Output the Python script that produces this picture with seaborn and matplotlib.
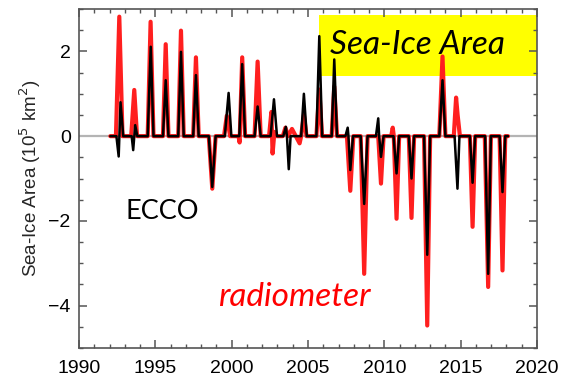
import matplotlib
matplotlib.use("Agg")
import matplotlib.pyplot as plt
import seaborn as sns
import pandas as pd
from matplotlib.patches import Rectangle
from matplotlib.ticker import MultipleLocator

# ---- data ----
radiometer_t = [1992.05, 1992.42, 1992.64, 1992.85, 1993.42, 1993.62, 1993.8,
                1994.5, 1994.69, 1994.88, 1995.5, 1995.68, 1995.86,
                1996.5, 1996.68, 1996.86, 1997.48, 1997.66, 1997.84,
                1998.5, 1998.73, 1998.95, 1999.5, 1999.68, 1999.9,
                2000.45, 2000.52, 2000.69, 2000.88, 2001.5, 2001.70, 2001.9,
                2002.45, 2002.6, 2002.68, 2002.8, 2002.95,
                2003.35, 2003.52, 2003.7, 2003.95, 2004.2, 2004.45, 2004.55,
                2004.73, 2004.9, 2005.55, 2005.74, 2005.92, 2006.55, 2006.72, 2006.9,
                2007.55, 2007.77, 2007.97, 2008.45, 2008.68, 2008.9,
                2009.6, 2009.78, 2009.95, 2010.45, 2010.55, 2010.62, 2010.8, 2010.97,
                2011.6, 2011.78, 2011.95, 2012.6, 2012.81, 2013.0,
                2013.6, 2013.81, 2014.0, 2014.55, 2014.7, 2014.8, 2014.95,
                2015.6, 2015.78, 2015.95, 2016.58, 2016.8, 2016.98,
                2017.55, 2017.74, 2017.92, 2018.1]
radiometer_v = [0, 0, 2.82, 0, 0, 1.09, 0,
                0, 2.70, 0, 0, 2.17, 0,
                0, 2.49, 0, 0, 1.86, 0,
                0, -1.24, 0, 0, 0.48, 0,
                0, -0.15, 1.86, 0, 0, 1.76, 0,
                0, 0.57, -0.41, 0.1, 0,
                0, 0.2, 0.0, 0.17, 0, -0.17, 0,
                0.5, 0, 0, 1.1, 0, 0, 1.17, 0,
                0, -1.29, 0, 0, -3.25, 0,
                0, -1.12, 0, 0, 0.2, 0, -1.95, 0,
                0, -1.93, 0, 0, -4.47, 0,
                0, 1.88, 0, 0, 0.91, 0.5, 0,
                0, -2.14, 0, 0, -3.56, 0,
                0, -3.17, 0, 0]

ecco_t = [1992.05, 1992.45, 1992.6, 1992.72, 1992.9, 1993.45, 1993.55, 1993.68, 1993.82,
          1994.5, 1994.7, 1994.88, 1995.5, 1995.68, 1995.86,
          1996.5, 1996.68, 1996.86, 1997.48, 1997.66, 1997.84,
          1998.5, 1998.73, 1998.95, 1999.55, 1999.8, 1999.98,
          2000.5, 2000.69, 2000.88, 2001.5, 2001.7, 2001.9,
          2002.55, 2002.77, 2002.97, 2003.38, 2003.55, 2003.62, 2003.74, 2003.86,
          2004.55, 2004.73, 2004.92, 2005.55, 2005.74, 2005.93, 2006.55, 2006.72, 2006.9,
          2007.45, 2007.6, 2007.65, 2007.77, 2007.95, 2008.45, 2008.68, 2008.9,
          2009.45, 2009.6, 2009.66, 2009.78, 2009.95, 2010.6, 2010.8, 2010.97,
          2011.6, 2011.78, 2011.95, 2012.6, 2012.81, 2013.0,
          2013.6, 2013.81, 2014.0, 2014.6, 2014.79, 2014.92,
          2015.6, 2015.78, 2015.95, 2016.6, 2016.8, 2016.98,
          2017.55, 2017.74, 2017.92, 2018.1]
ecco_v = [0, 0, -0.48, 0.8, 0, 0, -0.33, 0.26, 0,
          0, 2.11, 0, 0, 1.32, 0,
          0, 1.99, 0, 0, 1.44, 0,
          0, -1.2, 0, 0, 1.02, 0,
          0, 1.7, 0, 0, 0.7, 0,
          0, 0.87, 0, 0, 0.22, 0, -0.78, 0,
          0, 1.0, 0, 0, 2.36, 0, 0, 1.81, 0,
          0, 0.2, 0, -0.8, 0, 0, -1.6, 0,
          0, 0.42, 0, -0.49, 0, 0, -0.88, 0,
          0, -1.0, 0, 0, -2.8, 0,
          0, 1.32, 0, 0, -1.24, 0,
          0, -1.1, 0, 0, -3.25, 0,
          0, -1.32, 0, 0]

x_ticks = [1990, 1995, 2000, 2005, 2010, 2015, 2020]
y_ticks = [-4, -2, 0, 2]

radio_df = pd.DataFrame({"year": radiometer_t, "area": radiometer_v})
ecco_df = pd.DataFrame({"year": ecco_t, "area": ecco_v})

# ---- plot ----
sns.set_theme(style="ticks")
plt.rcParams["font.family"] = ["Liberation Sans", "DejaVu Sans"]

fig = plt.figure(figsize=(5.86, 3.77), dpi=100)
ax = fig.add_axes([0.1348, 0.077, 0.7816, 0.899])

ax.add_patch(Rectangle((2005.72, 1.42), 2020 - 2005.72, 2.86 - 1.42,
                       facecolor="#ffff00", edgecolor="none", zorder=0.5))
ax.axhline(0, color="#b4b4b4", lw=1.6, zorder=1)

sns.lineplot(data=radio_df, x="year", y="area", ax=ax, color="#ff1f1f",
             lw=3.0, estimator=None, sort=False, zorder=2)
sns.lineplot(data=ecco_df, x="year", y="area", ax=ax, color="black",
             lw=1.8, estimator=None, sort=False, zorder=3)

ax.set_xlim(1990, 2020)
ax.set_ylim(-5, 3)
ax.set_xticks(x_ticks)
ax.set_yticks(y_ticks)
ax.xaxis.set_minor_locator(MultipleLocator(1))
ax.yaxis.set_minor_locator(MultipleLocator(0.5))
ax.tick_params(which="both", direction="in", top=True, right=True,
               color="#555555", labelsize=14, labelcolor="black", pad=6)
ax.tick_params(axis="x", which="major", pad=9)
ax.tick_params(which="major", length=6, width=1.1)
ax.tick_params(which="minor", length=3, width=1.0)
for s in ax.spines.values():
    s.set_color("#555555")
    s.set_linewidth(1.2)

ax.set_xlabel("")
ax.set_ylabel("Sea-Ice Area (10$^5$ km$^2$)", fontsize=13.5, labelpad=4)

ax.text(2012.2, 2.15, "Sea-Ice Area", fontsize=24, style="italic",
        family=["Lato", "DejaVu Sans"], ha="center", va="center", color="black", zorder=4)
ax.text(1995.44, -1.77, "ECCO", fontsize=19.5, family=["Lato", "DejaVu Sans"],
        ha="center", va="center", color="black", zorder=4)
ax.text(2004.08, -3.8, "radiometer", fontsize=24, style="italic",
        family=["Lato", "DejaVu Sans"], ha="center", va="center", color="#ff0000", zorder=4)

fig.savefig("out.png", dpi=100)
